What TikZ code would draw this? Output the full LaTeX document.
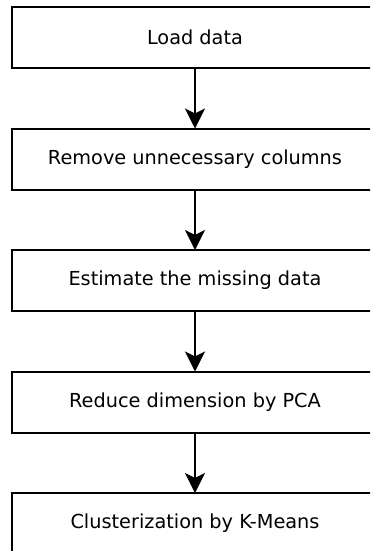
\documentclass[tikz,border=0pt]{standalone}
\usepackage{fontspec}
\setmainfont{DejaVu Sans}
\usetikzlibrary{arrows.meta}
\begin{document}
\begin{tikzpicture}[x=1pt,y=-1pt,
  stepbox/.style={draw=black, line width=2pt, fill=white, rectangle,
    minimum width=366pt, minimum height=61pt, inner sep=0pt,
    font=\fontsize{19.3}{22}\selectfont},
  flow/.style={line width=2pt, -{Stealth[length=20pt,width=20pt,inset=5pt]}, shorten >=-1pt}]
\useasboundingbox (0,0) rectangle (370,551);
\clip (0,0) rectangle (370,551);
\fill[white] (0,0) rectangle (370,551);
\node[stepbox] (a) at (195,37.5) {Load data};
\node[stepbox] (b) at (195,159) {Remove unnecessary columns};
\node[stepbox] (c) at (195,280.5) {Estimate the missing data};
\node[stepbox] (d) at (195,402) {Reduce dimension by PCA};
\node[stepbox] (e) at (195,523.5) {Clusterization by K-Means};
\draw[flow] (a) -- (b);
\draw[flow] (b) -- (c);
\draw[flow] (c) -- (d);
\draw[flow] (d) -- (e);
\end{tikzpicture}
\end{document}
